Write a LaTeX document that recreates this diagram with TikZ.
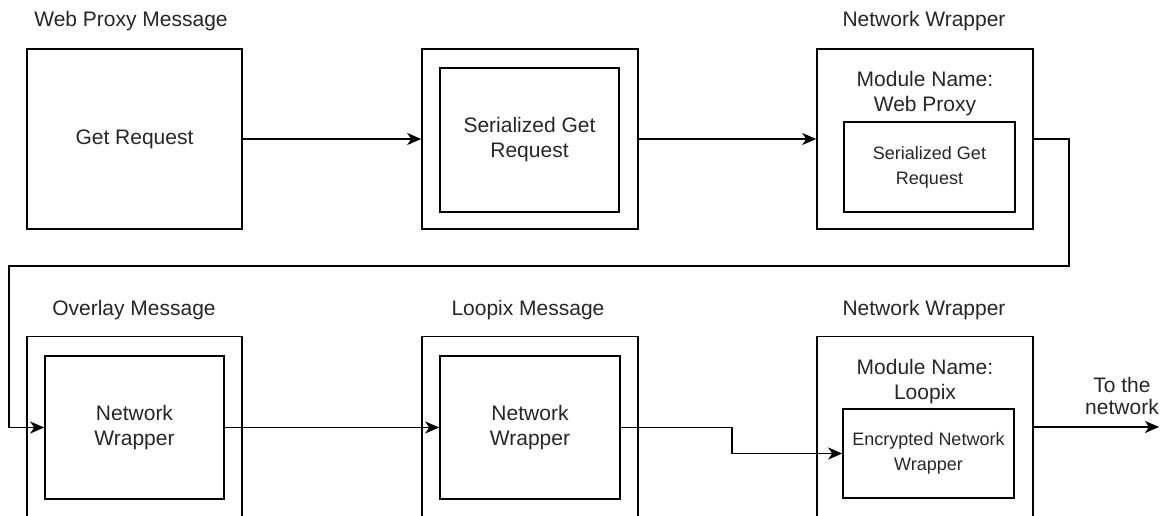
\documentclass[tikz,border=0pt]{standalone}
\usepackage{fontspec}
\setmainfont{Liberation Sans}
\usetikzlibrary{arrows.meta}
\begin{document}
\begin{tikzpicture}[x=1pt,y=-1pt,
  box/.style={draw, line width=1.6pt, inner sep=0pt, align=center, font=\fontsize{21}{25}\selectfont, text=black!85},
  lbl/.style={inner sep=0pt, font=\fontsize{21}{25}\selectfont, text=black!85, align=center},
  smalltext/.style={font=\fontsize{18}{25}\selectfont},
  conn/.style={line width=1.6pt, -{Stealth[length=14pt,width=12pt,inset=4pt]}},
]
\useasboundingbox (0,0) rectangle (1165,516);
\clip (0,0) rectangle (1165,516);
% top row
\node[lbl, anchor=base] (t1) at (131,27) {Web Proxy Message};
\node[lbl, anchor=base] (t3) at (924,27) {Network Wrapper};
\node[box, minimum width=215pt, minimum height=180pt] (b1) at (134.5,139) {Get Request};
\node[box, minimum width=216pt, minimum height=180pt] (b2) at (530,139) {};
\node[box, minimum width=179pt, minimum height=144pt] (b2i) at (529.5,140) {Serialized Get\\Request};
\node[box, minimum width=216pt, minimum height=180pt] (b3) at (925,139) {};
\node[lbl] (b3t) at (925,94) {Module Name:\\Web Proxy};
\node[box, smalltext, minimum width=171pt, minimum height=90pt] (b3i) at (929.5,167) {Serialized Get\\Request};
% bottom row
\node[lbl, anchor=base] (t4) at (134,315) {Overlay Message};
\node[lbl, anchor=base] (t5) at (528,315) {Loopix Message};
\node[lbl, anchor=base] (t6) at (924,315) {Network Wrapper};
\node[box, minimum width=215pt, minimum height=180pt] (b4) at (134.5,426.5) {};
\node[box, minimum width=179pt, minimum height=143pt] (b4i) at (134.5,427.5) {Network\\Wrapper};
\node[box, minimum width=216pt, minimum height=180pt] (b5) at (530,426.5) {};
\node[box, minimum width=180pt, minimum height=143pt] (b5i) at (530,427.5) {Network\\Wrapper};
\node[box, minimum width=216pt, minimum height=180pt] (b6) at (925,426.5) {};
\node[lbl] (b6t) at (925,382) {Module Name:\\Loopix};
\node[box, smalltext, minimum width=171pt, minimum height=89pt] (b6i) at (928.5,453.5) {Encrypted Network\\Wrapper};
\node[lbl, font=\fontsize{21}{22}\selectfont] (net) at (1122,396) {To the\\network};
% connectors
\coordinate (r1) at (1069,266);
\coordinate (l1) at (9,266);
\coordinate (m1) at (732,427.5);
\coordinate (out) at (1159,427);
\draw[conn] (b1.east) -- (b2.west);
\draw[conn] (b2.east) -- (b3.west);
\draw[conn] (b3.east) -| (r1) -- (l1) |- (b4i.west);
\draw[conn] (b4i.east) -- (b5i.west);
\draw[conn] (b5i.east) -- (m1) |- (b6i.west);
\draw[conn] (b6.east |- out) -- (out);
\end{tikzpicture}
\end{document}
